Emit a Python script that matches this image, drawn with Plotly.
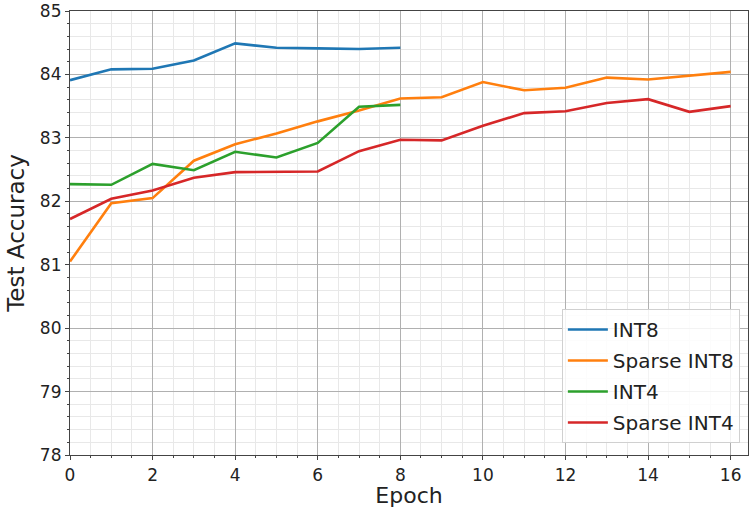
import plotly.graph_objects as go

epochs_int = list(range(0, 9))
epochs_sparse = list(range(0, 17))

int8 = [83.91, 84.08, 84.09, 84.22, 84.49, 84.42, 84.41, 84.40, 84.42]
sparse_int8 = [81.05, 81.97, 82.05, 82.64, 82.90, 83.07, 83.26, 83.43, 83.62,
               83.64, 83.88, 83.75, 83.79, 83.95, 83.92, 83.98, 84.04]
int4 = [82.27, 82.26, 82.59, 82.49, 82.78, 82.69, 82.92, 83.49, 83.52]
sparse_int4 = [81.72, 82.04, 82.17, 82.37, 82.46, 82.47, 82.47, 82.79, 82.97,
               82.96, 83.19, 83.39, 83.42, 83.55, 83.61, 83.41, 83.50]

series = [
    ("INT8", epochs_int, int8, "#1f77b4"),
    ("Sparse INT8", epochs_sparse, sparse_int8, "#ff7f0e"),
    ("INT4", epochs_int, int4, "#2ca02c"),
    ("Sparse INT4", epochs_sparse, sparse_int4, "#d62728"),
]

font = "DejaVu Sans, sans-serif"
fig = go.Figure()
for name, x, y, c in series:
    fig.add_trace(go.Scatter(x=x, y=y, mode="lines", name=name, legendgroup=name,
                             line=dict(color=c, width=2.6)))

axis_common = dict(
    showline=True, linecolor="#444", linewidth=1.2, mirror=True,
    ticks="outside", ticklen=4, tickcolor="#444", tickwidth=1,
    showgrid=True, gridcolor="#b0b0b0", gridwidth=1, zeroline=False,
    tickfont=dict(family=font, size=17, color="#222"),
)
fig.update_xaxes(range=[0, 16.42], dtick=2, tick0=0, automargin=False,
                 title=dict(text="Epoch", font=dict(family=font, size=22, color="#222"), standoff=7),
                 minor=dict(dtick=0.5, showgrid=True, gridcolor="#e8e8e8", gridwidth=1,
                            ticks="outside", ticklen=2, tickcolor="#444"),
                 **axis_common)
fig.update_yaxes(range=[78, 85], dtick=1, tick0=78,
                 title=dict(text="Test Accuracy", font=dict(family=font, size=23, color="#222"), standoff=8),
                 minor=dict(dtick=0.2, showgrid=True, gridcolor="#e8e8e8", gridwidth=1,
                            ticks="outside", ticklen=2, tickcolor="#444"),
                 **axis_common)

fig.update_layout(
    width=749, height=508,
    margin=dict(l=70, r=1, t=11, b=53),
    plot_bgcolor="white", paper_bgcolor="white",
    font=dict(family=font, color="#222"),
    legend=dict(x=0.988, y=0.027, xanchor="right", yanchor="bottom",
                bgcolor="rgba(255,255,255,0.85)", bordercolor="#d0d0d0", borderwidth=1,
                font=dict(family=font, size=20, color="#222"),
                tracegroupgap=2, itemwidth=40),
    showlegend=True,
)

fig.write_html("out.html")
